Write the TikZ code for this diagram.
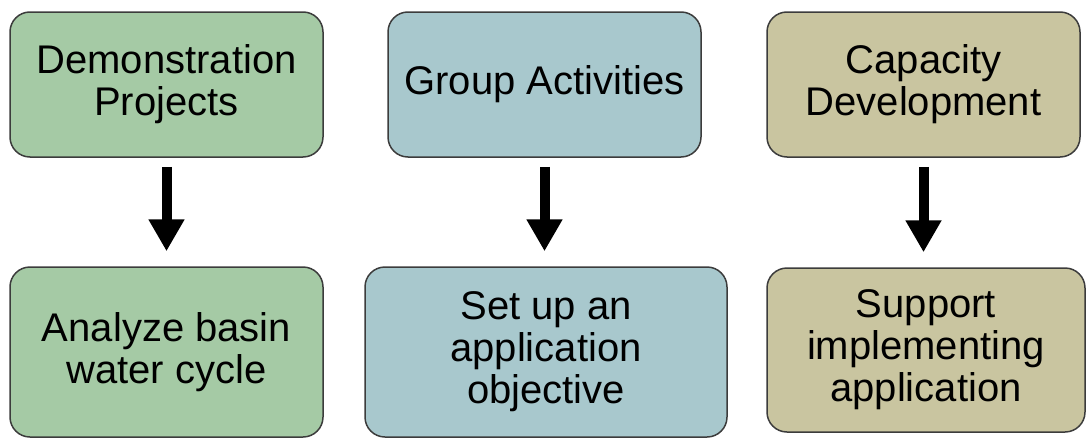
\documentclass[tikz,border=0pt]{standalone}
\usepackage{fontspec}
\setmainfont{Liberation Sans}
\usepackage{tikz}
\usetikzlibrary{positioning,arrows.meta}
\definecolor{demogreen}{RGB}{165,202,165}
\definecolor{groupblue}{RGB}{168,200,205}
\definecolor{captan}{RGB}{201,197,160}
\definecolor{boxline}{RGB}{60,60,60}
\tikzset{
box/.style={
draw=boxline,
line width=1.5pt,
rounded corners=20pt,
minimum width=313pt,
minimum height=145pt,
align=center,
font=\fontsize{40}{42}\selectfont
},
arrow/.style={
-{Triangle[width=34pt,length=32pt]},
line width=10pt,
shorten <=9pt,
shorten >=15pt
}
}

\begin{document}
\begin{tikzpicture}[x=1pt,y=-1pt]
\useasboundingbox (0,0) rectangle (1086,439);
\node[box,fill=demogreen](demo) at (166.5,84.5){Demonstration\\Projects};
\node[box,fill=groupblue](group) at (544.5,84.5){Group Activities};
\node[box,fill=captan](cap) at (923.5,84.5){Capacity\\Development};
\node[box,fill=demogreen,minimum height=170pt](basin) at (166.5,352){Analyze basin\\water cycle};
\node[box,fill=groupblue,minimum width=362pt,minimum height=170pt](objective) at (546,352){Set up an\\application\\objective};
\node[box,fill=captan,minimum width=318pt,minimum height=164pt](support) at (926,350){Support\\implementing\\application};

\foreach \x/\y in {demo/basin,group/objective,cap/support}
\draw[arrow](\x.south)--(\x.south |- \y.north);
\end{tikzpicture}
\end{document}
